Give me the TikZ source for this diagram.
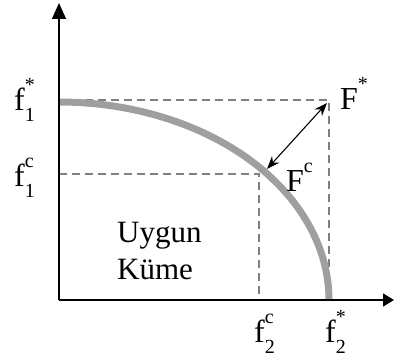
\documentclass[tikz,border=0pt]{standalone}
\usepackage{fontspec}
\setmainfont{Liberation Serif}
\newfontfamily\timesf{Liberation Serif}
\usetikzlibrary{arrows.meta}
\newcommand{\flbl}[3]{#1\rlap{\raisebox{-0.32em}{\fontsize{20}{20}\selectfont #2}}\raisebox{0.62em}{\fontsize{20}{20}\selectfont #3}}
\begin{document}
\begin{tikzpicture}[x=1pt,y=-1pt,
  axis/.style={line width=1.4pt, black},
  guide/.style={line width=2.4pt, gray, dash pattern=on 8pt off 5pt},
  front/.style={line width=7pt, gray!75},
  dist/.style={line width=1.1pt, black, {Stealth[length=13pt,width=10pt]}-{Stealth[length=13pt,width=10pt]}},
  lbl/.style={inner sep=0pt, font=\timesf\fontsize{32}{32}\selectfont, anchor=base west},
  set/.style={inner sep=0pt, font=\timesf\fontsize{31}{37}\selectfont, align=left, anchor=base west}]
\useasboundingbox (0,0) rectangle (394,358);
\coordinate (O) at (59,300);
\coordinate (ytop) at (59,3);
\coordinate (xend) at (394,300);
\coordinate (Fs) at (329,100);
\coordinate (Fc) at (261,174);
\coordinate (f1s) at (59,100);
\coordinate (f1c) at (59,174);
\coordinate (f2s) at (329,300);
\coordinate (f2c) at (259,300);
% guides
\draw[guide] (f1s) -- (Fs) -- (f2s);
\draw[guide] (f1c) -- (259,174) -- (f2c);
% front
\draw[front] plot[domain=0:90, samples=60] ({59+270*sin(\x)}, {300-198*cos(\x)});
% axes
\draw[axis, -{Triangle[length=16pt,width=14pt]}] (O) -- (ytop);
\draw[axis, -{Triangle[length=11pt,width=13pt]}] (O) -- (xend);
% distance arrow
\coordinate (a1) at (267,169);
\coordinate (a2) at (327,103);
\draw[dist] (a1) -- (a2);
% labels
\node[lbl] (lf1s) at (14,111) {\flbl{f}{1}{*}};
\node[lbl] (lf1c) at (14,187) {\flbl{f}{1}{c}};
\node[lbl] (lFs) at (340,110) {\flbl{F}{}{*}};
\node[lbl] (lFc) at (286,192) {\flbl{F}{}{c}};
\node[lbl] (lf2c) at (254,343) {\flbl{f}{2}{c}};
\node[lbl] (lf2s) at (325,343) {\flbl{f}{2}{*}};
\node[set] (uk) at (117,280) {Uygun\\Küme};
\end{tikzpicture}
\end{document}
